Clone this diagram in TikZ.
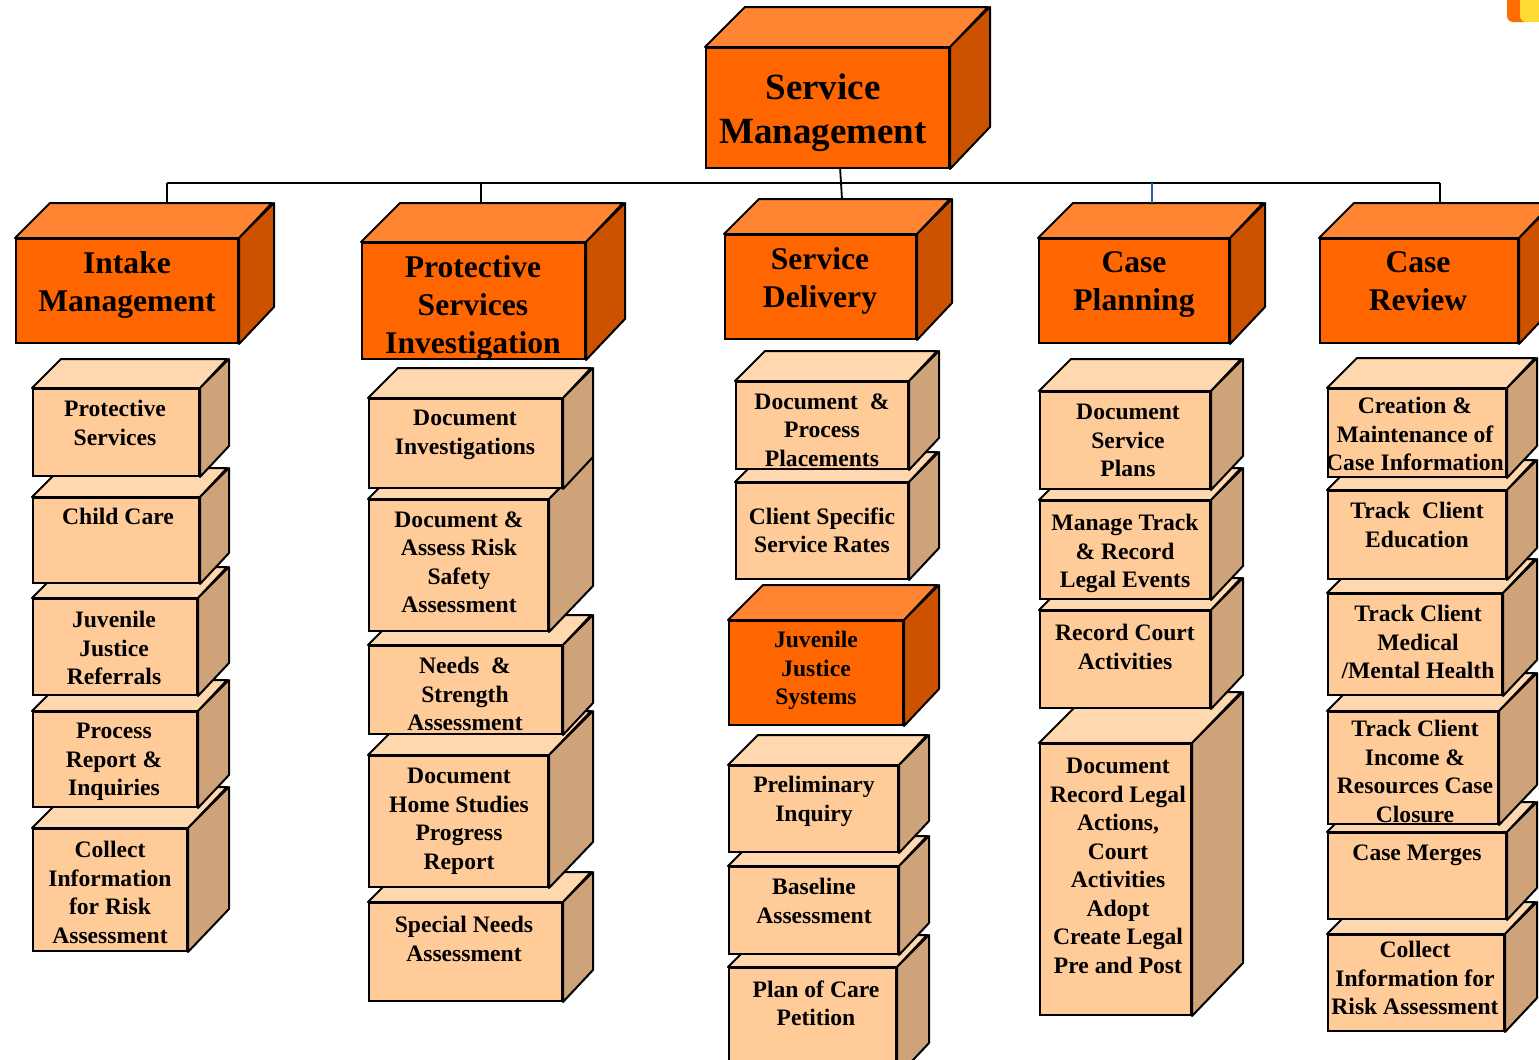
\documentclass[tikz,border=0pt]{standalone}
\usepackage{fontspec}
\setmainfont{Liberation Serif}

\definecolor{hdfront}{RGB}{255,102,0}
\definecolor{hdtopc}{RGB}{255,133,51}
\definecolor{hdsidec}{RGB}{204,82,0}
\definecolor{sbfront}{RGB}{255,204,153}
\definecolor{sbtopc}{RGB}{255,216,176}
\definecolor{sbsidec}{RGB}{206,163,122}
\definecolor{linkblue}{RGB}{40,100,170}

\tikzset{
  hdface/.style={draw=black, line width=1pt, fill=hdfront, anchor=north west, inner sep=0pt},
  hdtop/.style={draw=black, line width=1pt, fill=hdtopc, line join=round},
  hdside/.style={draw=black, line width=1pt, fill=hdsidec, line join=round},
  sbface/.style={draw=black, line width=1pt, fill=sbfront, anchor=north west, inner sep=0pt},
  sbtop/.style={draw=black, line width=1pt, fill=sbtopc, line join=round},
  sbside/.style={draw=black, line width=1pt, fill=sbsidec, line join=round},
  hdtext/.style={font=\bfseries\fontsize{15.8}{19}\selectfont, align=center, anchor=north, inner sep=0pt, yshift=10.7pt},
  smtext/.style={hdtext, font=\bfseries\fontsize{18.5}{22}\selectfont, yshift=1.9pt},
  sbtext/.style={hdtext, font=\bfseries\fontsize{11.8}{14.25}\selectfont, yshift=-2.7pt},
  conn/.style={draw=black, line width=0.9pt},
}

% name, kind, x1, y1, x2, y2, depth
\newcommand{\stackbox}[7]{%
  \node[#2face, minimum width={(#5-#3)*0.5pt}, minimum height={(#6-#4)*0.5pt}] (#1) at (#3,#4) {};
  \filldraw[#2top] (#1.north west) -- ++(#7,-#7) -- ++(#5-#3,0) -- (#1.north east) -- cycle;
  \filldraw[#2side] (#1.north east) -- ++(#7,-#7) -- ++(0,#6-#4) -- (#1.south east) -- cycle;
}

\begin{document}
\begin{tikzpicture}[x=0.5pt, y=-0.5pt]
  \clip (0,0) rectangle (1539,1060);

  \fill[orange!85!red, rounded corners=3pt] (1507,-10) rectangle (1530,22);
  \fill[yellow!70!orange!80, rounded corners=3pt] (1520,-10) rectangle (1545,22);
  \draw[gray!45, line width=2pt] (525,-2) arc[start angle=190, end angle=350, x radius=20, y radius=4];

  \stackbox{sm}{hd}{705}{47}{948}{167}{40}
  \node[smtext] (sm-t) at (823,99) {Service\\Management};

  \stackbox{im}{hd}{15}{238}{237}{342}{35}
  \node[hdtext] (im-t) at (127,273) {Intake\\Management};
  \stackbox{psi}{hd}{361}{242}{584}{358}{39}
  \node[hdtext] (psi-t) at (473,277) {Protective\\Services\\Investigation};
  \stackbox{sd}{hd}{724}{234}{915}{338}{35}
  \node[hdtext] (sd-t) at (820,269) {Service\\Delivery};
  \stackbox{cp}{hd}{1038}{238}{1228}{342}{35}
  \node[hdtext] (cp-t) at (1134,273) {Case\\Planning};
  \stackbox{cr}{hd}{1319}{238}{1517}{342}{35}
  \node[hdtext] (cr-t) at (1418,273) {Case\\Review};

  \coordinate (bus-l) at (167,183);
  \coordinate (bus-r) at (1440,183);
  \coordinate (sm-out) at (840,167);
  \coordinate (im-in) at (167,203);
  \coordinate (psi-in) at (481,203);
  \coordinate (sd-in) at (842,199);
  \coordinate (cp-in) at (1152,203);
  \coordinate (cr-in) at (1440,203);
  \draw[conn] (bus-l) -- (bus-r);
  \draw[conn] (sm-out) -- (sd-in);
  \draw[conn] (im-in) -- (im-in |- bus-l);
  \draw[conn] (psi-in) -- (psi-in |- bus-l);
  \draw[conn, draw=linkblue] (cp-in) -- (cp-in |- bus-l);
  \draw[conn] (cr-in) -- (cr-in |- bus-l);

  \stackbox{cir}{sb}{32}{828}{186}{950}{41}
  \node[sbtext] (cir-t) at (110,857) {Collect\\Information\\for Risk\\Assessment};
  \stackbox{prr}{sb}{32}{711}{196}{806}{31}
  \node[sbtext] (prr-t) at (114,739) {Process\\Report \&\\Inquiries};
  \stackbox{jjr}{sb}{32}{598}{196}{694}{31}
  \node[sbtext] (jjr-t) at (114,627) {Juvenile\\Justice\\Referrals};
  \stackbox{cc}{sb}{32}{497}{198}{582}{29}
  \node[sbtext] (cc-t) at (118,524) {Child Care};
  \stackbox{ps}{sb}{32}{388}{198}{475}{29}
  \node[sbtext] (ps-t) at (115,416) {Protective\\Services};

  \stackbox{sna}{sb}{368}{902}{561}{1000}{30}
  \node[sbtext] (sna-t) at (464,932) {Special Needs\\Assessment};
  \stackbox{dhs}{sb}{368}{755}{547}{886}{44}
  \node[sbtext] (dhs-t) at (459,784) {Document\\Home Studies\\Progress\\Report};
  \stackbox{nsa}{sb}{368}{645}{561}{733}{30}
  \node[sbtext] (nsa-t) at (465,673) {Needs~~\&\\Strength\\Assessment};
  \stackbox{dar}{sb}{368}{499}{547}{630}{44}
  \node[sbtext] (dar-t) at (459,527) {Document \&\\Assess Risk\\Safety\\Assessment};
  \stackbox{di}{sb}{368}{398}{561}{487}{30}
  \node[sbtext] (di-t) at (465,426) {Document\\Investigations};

  \stackbox{pcp}{sb}{728}{967}{895}{1075}{32}
  \node[sbtext] (pcp-t) at (816,996) {Plan of Care\\Petition};
  \stackbox{ba}{sb}{728}{866}{897}{953}{30}
  \node[sbtext] (ba-t) at (814,894) {Baseline\\Assessment};
  \stackbox{pi}{sb}{728}{765}{897}{851}{30}
  \node[sbtext] (pi-t) at (814,792) {Preliminary\\Inquiry};
  \stackbox{jjs}{hd}{728}{620}{902}{724}{35}
  \node[sbtext] (jjs-t) at (816,647) {Juvenile\\Justice\\Systems};
  \stackbox{csr}{sb}{735}{482}{907}{578}{30}
  \node[sbtext] (csr-t) at (822,523) {Client Specific\\Service Rates};
  \stackbox{dpp}{sb}{735}{381}{907}{468}{30}
  \node[sbtext] (dpp-t) at (822,409) {Document~~\&\\Process\\Placements};

  \stackbox{drl}{sb}{1039}{743}{1190}{1014}{51}
  \node[sbtext] (drl-t) at (1118,774) {Document\\Record Legal\\Actions,\\Court\\Activities\\Adopt\\Create Legal\\Pre and Post};
  \stackbox{rca}{sb}{1039}{610}{1209}{707}{32}
  \node[sbtext] (rca-t) at (1125,640) {Record Court\\Activities};
  \stackbox{mtr}{sb}{1039}{500}{1209}{598}{32}
  \node[sbtext] (mtr-t) at (1125,530) {Manage Track\\\& Record\\Legal Events};
  \stackbox{dsp}{sb}{1039}{391}{1209}{488}{32}
  \node[sbtext] (dsp-t) at (1128,420) {Document\\Service\\Plans};

  \stackbox{cri}{sb}{1327}{934}{1503}{1030}{32}
  \node[sbtext] (cri-t) at (1415,957) {Collect\\Information for\\Risk Assessment};
  \stackbox{cm}{sb}{1327}{832}{1505}{918}{30}
  \node[sbtext] (cm-t) at (1417,860) {Case Merges};
  \stackbox{tci}{sb}{1327}{711}{1497}{823}{38}
  \node[sbtext] (tci-t) at (1415,736) {Track Client\\Income \&\\Resources Case\\Closure};
  \stackbox{tcm}{sb}{1327}{593}{1501}{694}{34}
  \node[sbtext] (tcm-t) at (1418,621) {Track Client\\Medical\\/Mental Health};
  \stackbox{tce}{sb}{1327}{490}{1505}{578}{30}
  \node[sbtext] (tce-t) at (1417,518) {Track~~Client\\Education};
  \stackbox{cmc}{sb}{1327}{388}{1505}{476}{30}
  \node[sbtext] (cmc-t) at (1415,413) {Creation \&\\Maintenance of\\Case Information};
\end{tikzpicture}
\end{document}
